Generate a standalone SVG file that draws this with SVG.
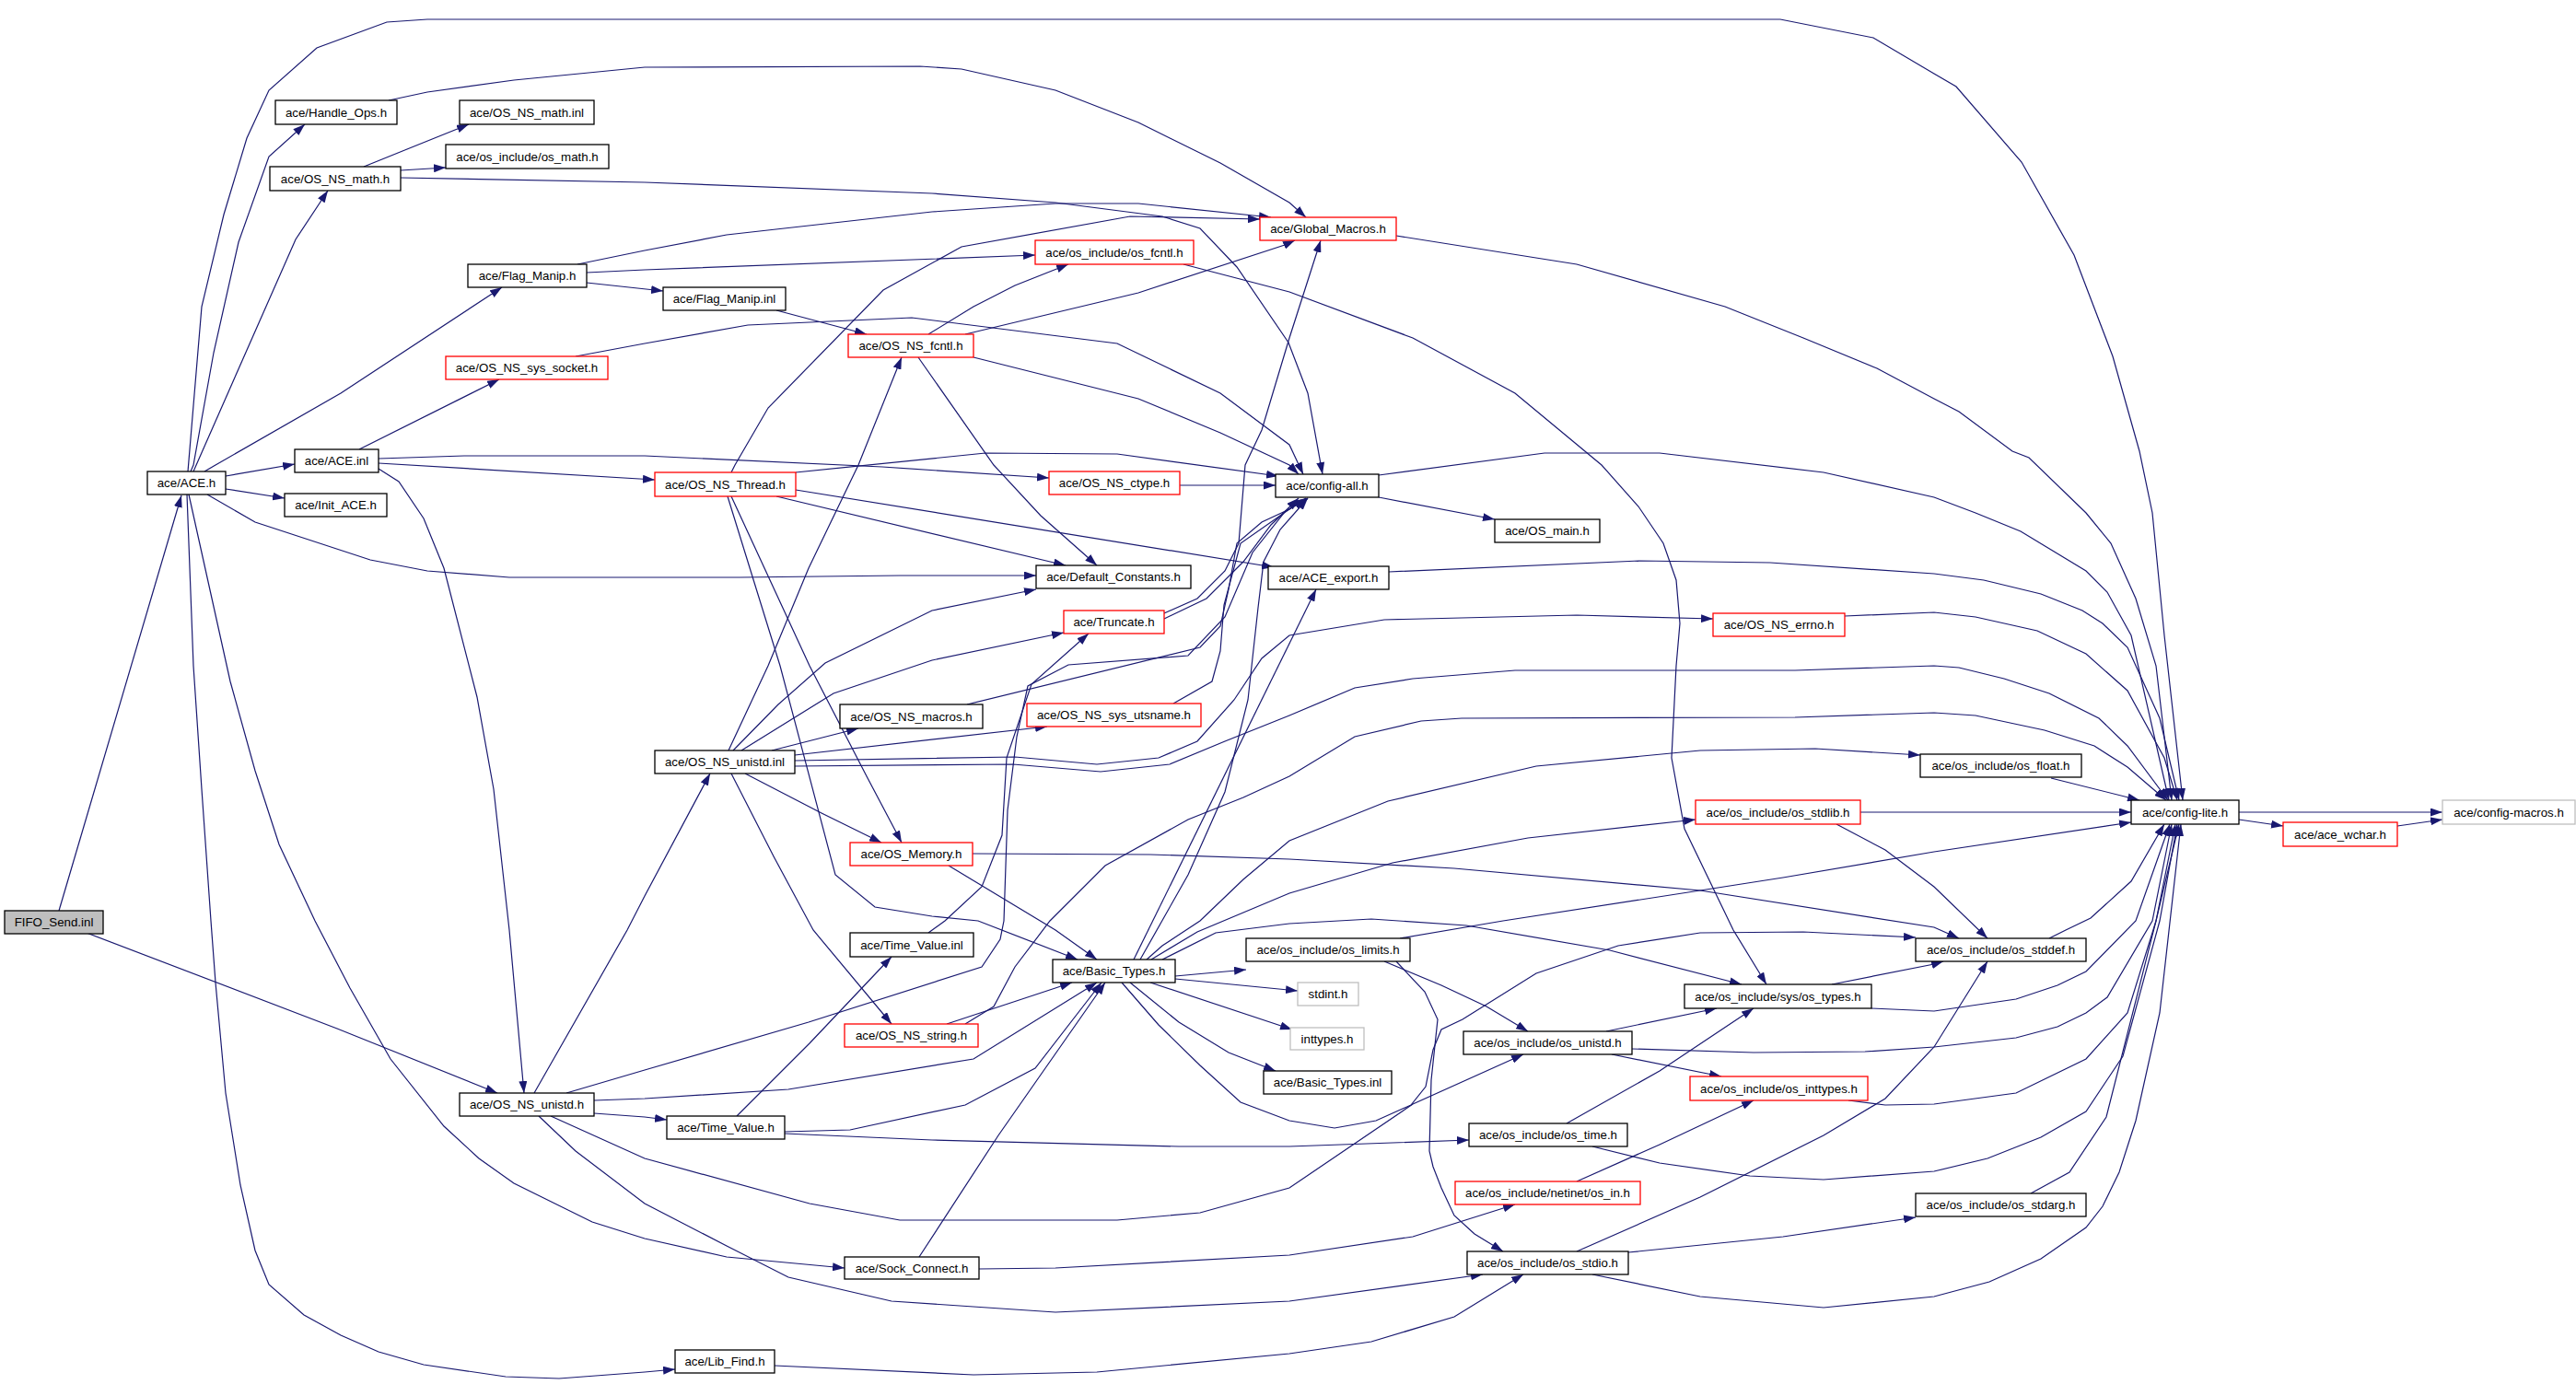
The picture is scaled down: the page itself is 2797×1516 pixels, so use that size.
<svg xmlns="http://www.w3.org/2000/svg" width="2797" height="1516" viewBox="0 0 2797 1516">
<style>
.node rect{fill:#ffffff;stroke:#000000;stroke-width:1.3}
.node.red rect{stroke:#ff0000}
.node.gray rect{stroke:#bfbfbf}
.node.root rect{fill:#bfbfbf;stroke:#000000}
.node text{font-family:"Liberation Sans",Arial,Helvetica,sans-serif;font-size:13.3px;fill:#000000;text-anchor:middle}
#edges path{fill:none;stroke:#191970;stroke-width:1.2;marker-end:url(#ah)}
</style>
<defs>
<marker id="ah" viewBox="0 0 13 9" refX="13" refY="4.5" markerWidth="13" markerHeight="9" markerUnits="userSpaceOnUse" orient="auto">
<path d="M0,0 L13,4.5 L0,9 z" fill="#191970"/>
</marker>
</defs>
<rect x="0" y="0" width="2797" height="1516" fill="#ffffff"/>
<g id="edges">
<path d="M64,989 L197,538"/>
<path d="M94,1013 L366,1117 L540,1187"/>
<path d="M207,512 L210,505 L232,383 L259,263 L292,170 L331,135"/>
<path d="M210,512 L321,260 L356,207"/>
<path d="M222,512 L234,505 L370,427 L545,312"/>
<path d="M204,512 L219,333 L243,233 L268,150 L292,98 L344,52 L420,24 L464,21 L1933,21 L2034,41 L2100,80 L2124,94 L2195,176 L2252,277 L2294,387 L2323,490 L2337,557 L2350,690 L2370,869"/>
<path d="M245,517 L320,504"/>
<path d="M245,531 L309,541"/>
<path d="M225,537 L277,567 L402,608 L464,620 L553,627 L803,627 L977,625 L1125,625"/>
<path d="M203,537 L210,723 L219,857 L229,1000 L234,1067 L245,1187 L261,1287 L277,1358 L292,1395 L330,1428 L370,1450 L411,1468 L460,1482 L549,1495 L607,1497 L700,1490 L733,1487"/>
<path d="M205,537 L250,740 L277,837 L303,917 L342,1000 L380,1073 L424,1150 L482,1223 L520,1258 L558,1285 L643,1327 L700,1345 L789,1365 L917,1377"/>
<path d="M390,488 L542,412"/>
<path d="M411,503 L711,521"/>
<path d="M411,498 L504,495 L700,495 L958,507 L1139,519"/>
<path d="M411,509 L433,523 L460,563 L482,617 L518,757 L536,857 L553,1010 L569,1187"/>
<path d="M422,109 L464,100 L558,87 L700,73 L999,72 L1044,75 L1146,98 L1236,133 L1325,177 L1400,220 L1418,236"/>
<path d="M395,181 L442,162 L509,135"/>
<path d="M435,185 L484,182"/>
<path d="M435,193 L700,198 L1012,210 L1146,220 L1262,235 L1303,248 L1343,290 L1399,372 L1420,427 L1436,515"/>
<path d="M627,287 L700,272 L789,255 L1012,230 L1146,221 L1236,221 L1380,236"/>
<path d="M637,296 L700,293 L1124,277"/>
<path d="M637,307 L720,316"/>
<path d="M843,337 L941,363"/>
<path d="M1008,363 L1057,333 L1102,310 L1160,287"/>
<path d="M1048,363 L1236,318 L1395,266 L1406,261"/>
<path d="M1057,388 L1236,433 L1325,470 L1400,505 L1410,515"/>
<path d="M997,388 L1079,505 L1130,560 L1191,614"/>
<path d="M1285,287 L1400,317 L1534,367 L1645,427 L1739,505 L1779,550 L1806,590 L1820,630 L1824,677 L1820,723 L1815,823 L1829,900 L1882,1010 L1918,1069"/>
<path d="M1516,256 L1712,287 L1873,333 L1958,367 L2038,400 L2100,433 L2127,447 L2185,490 L2203,497 L2265,557 L2292,590 L2319,650 L2341,723 L2358,869"/>
<path d="M625,387 L700,373 L812,353 L990,345 L1213,373 L1325,427 L1400,483 L1415,515"/>
<path d="M794,513 L798,505 L834,443 L959,315 L1044,268 L1227,235 L1368,238"/>
<path d="M864,513 L1070,492 L1213,493 L1388,517"/>
<path d="M843,539 L1157,614"/>
<path d="M864,532 L1383,616"/>
<path d="M794,539 L879,723 L941,843 L979,915"/>
<path d="M790,539 L847,723 L907,950 L950,985 L1012,995 L1062,1000 L1170,1042"/>
<path d="M1281,527 L1385,527"/>
<path d="M1264,666 L1300,650 L1330,620 L1345,590 L1352,505 L1370,467 L1400,367 L1434,261"/>
<path d="M1264,672 L1310,650 L1350,610 L1380,570 L1410,541"/>
<path d="M791,815 L834,723 L878,617 L932,505 L979,388"/>
<path d="M796,815 L845,765 L896,720 L1012,663 L1125,640"/>
<path d="M805,815 L905,753 L1012,717 L1155,687"/>
<path d="M838,815 L932,791"/>
<path d="M863,820 L1137,789"/>
<path d="M863,826 L1102,822 L1191,830 L1258,823 L1300,805 L1340,760 L1370,715 L1400,690 L1503,673 L1712,668 L1860,672"/>
<path d="M794,840 L840,930 L883,1010 L968,1112"/>
<path d="M809,840 L892,883 L957,915"/>
<path d="M863,832 L1100,830 L1195,838 L1270,830 L1330,805 L1400,777 L1471,747 L1534,737 L1645,728 L1949,728 L2100,723 L2127,725 L2176,737 L2225,753 L2279,780 L2310,810 L2354,869"/>
<path d="M580,1187 L681,1010 L700,973 L771,840"/>
<path d="M615,1187 L700,1162 L878,1110 L1066,1050 L1086,1020 L1090,1000 L1094,880 L1104,800 L1116,745 L1160,722 L1290,712 L1330,670 L1360,600 L1395,556 L1418,541"/>
<path d="M645,1195 L700,1193 L856,1183 L1057,1150 L1191,1067"/>
<path d="M645,1209 L700,1213 L724,1216"/>
<path d="M598,1212 L700,1258 L879,1307 L977,1325 L1213,1325 L1303,1317 L1400,1290 L1534,1199 L1654,1145"/>
<path d="M585,1212 L625,1250 L700,1307 L789,1353 L856,1387 L968,1413 L1146,1425 L1400,1413 L1610,1384"/>
<path d="M800,1212 L879,1133 L968,1039"/>
<path d="M852,1229 L923,1227 L1048,1200 L1124,1160 L1196,1067"/>
<path d="M852,1231 L1012,1238 L1280,1245 L1400,1245 L1595,1238"/>
<path d="M998,1365 L1084,1233 L1200,1067"/>
<path d="M1063,1378 L1146,1377 L1400,1363 L1534,1343 L1645,1308"/>
<path d="M841,1483 L1057,1493 L1191,1490 L1400,1470 L1489,1457 L1579,1430 L1654,1384"/>
<path d="M1028,1112 L1164,1067"/>
<path d="M1048,1112 L1079,1093 L1102,1050 L1140,1000 L1200,940 L1290,890 L1350,866 L1400,843 L1471,800 L1543,783 L1587,780 L1949,779 L2100,774 L2145,777 L2220,793 L2274,810 L2310,833 L2352,869"/>
<path d="M1030,940 L1146,1010 L1191,1042"/>
<path d="M1056,927 L1249,928 L1400,933 L1579,943 L1846,967 L2100,1007 L2127,1019"/>
<path d="M1008,1013 L1026,1000 L1066,963 L1088,907 L1093,823 L1120,743 L1182,688"/>
<path d="M1231,1042 L1429,640"/>
<path d="M1238,1042 L1290,950 L1330,860 L1355,760 L1366,660 L1372,610 L1390,575 L1420,541"/>
<path d="M1245,1042 L1262,1027 L1303,1000 L1350,955 L1400,913 L1507,870 L1668,832 L1846,815 L1971,813 L2085,820"/>
<path d="M1250,1042 L1300,1012 L1400,970 L1512,937 L1659,910 L1841,890"/>
<path d="M1262,1042 L1320,1013 L1400,1003 L1489,998 L1592,1005 L1748,1032 L1891,1069"/>
<path d="M1276,1060 L1353,1053"/>
<path d="M1276,1063 L1409,1076"/>
<path d="M1249,1067 L1403,1118"/>
<path d="M1227,1067 L1280,1110 L1334,1143 L1385,1163"/>
<path d="M1218,1067 L1258,1113 L1303,1157 L1347,1197 L1400,1217 L1449,1225 L1494,1217 L1532,1200 L1548,1180 L1556,1140 L1565,1118 L1588,1107 L1668,1057 L1757,1027 L1846,1013 L1958,1012 L2080,1018"/>
<path d="M1503,1044 L1565,1070 L1614,1093 L1659,1120"/>
<path d="M1516,1044 L1547,1077 L1561,1107 L1554,1173 L1552,1250 L1556,1267 L1565,1290 L1579,1320 L1601,1340 L1632,1359"/>
<path d="M1520,1019 L1632,1000 L1846,967 L1936,953 L2100,925 L2314,893"/>
<path d="M1744,1120 L1864,1095"/>
<path d="M1750,1145 L1869,1169"/>
<path d="M1772,1139 L1904,1143 L2025,1142 L2100,1137 L2189,1127 L2234,1115 L2265,1100 L2288,1083 L2337,1000 L2358,895"/>
<path d="M1701,1220 L1802,1163 L1904,1095"/>
<path d="M1729,1245 L1802,1263 L1900,1277 L1980,1281 L2100,1272 L2158,1258 L2216,1235 L2265,1207 L2305,1147 L2345,1000 L2364,895"/>
<path d="M1712,1283 L1802,1243 L1904,1195"/>
<path d="M1712,1359 L1846,1300 L1980,1233 L2047,1193 L2100,1137 L2158,1044"/>
<path d="M1768,1360 L1936,1343 L2080,1322"/>
<path d="M1729,1384 L1846,1408 L1980,1420 L2100,1408 L2160,1392 L2216,1367 L2265,1333 L2283,1310 L2301,1273 L2319,1217 L2345,1100 L2368,895"/>
<path d="M1989,1069 L2100,1047 L2110,1044"/>
<path d="M2032,1095 L2100,1098 L2189,1085 L2234,1070 L2265,1055 L2319,1000 L2356,895"/>
<path d="M2007,1195 L2047,1200 L2100,1199 L2189,1187 L2265,1150 L2310,1100 L2341,1000 L2362,895"/>
<path d="M2205,1296 L2247,1273 L2287,1213 L2341,1000 L2366,895"/>
<path d="M2225,1019 L2243,1010 L2270,997 L2314,957 L2350,895"/>
<path d="M1994,895 L2047,923 L2100,963 L2158,1019"/>
<path d="M2020,882 L2314,882"/>
<path d="M2227,845 L2323,869"/>
<path d="M2003,669 L2100,665 L2145,670 L2212,685 L2265,710 L2310,750 L2350,823 L2364,869"/>
<path d="M1508,621 L1780,609 L1922,611 L2100,623 L2154,630 L2216,645 L2261,663 L2283,677 L2310,703 L2345,780 L2366,869"/>
<path d="M1497,516 L1677,492 L1802,492 L1980,513 L2100,540 L2145,557 L2194,577 L2265,620 L2288,643 L2314,690 L2355,869"/>
<path d="M1497,540 L1623,564"/>
<path d="M2431,882 L2652,882"/>
<path d="M2431,890 L2479,897"/>
<path d="M2603,897 L2652,890"/>
<path d="M1050,765 L1303,703 L1325,680 L1334,640 L1343,590 L1370,567 L1400,553 L1420,541"/>
<path d="M1274,764 L1316,740 L1325,707 L1329,657 L1347,590 L1400,553 L1418,542"/>
</g>
<g id="n_fifo" class="node root"><rect x="5" y="989" width="107" height="25"/><text x="58.5" y="1006">FIFO_Send.inl</text></g>
<g id="n_ace_h" class="node"><rect x="160" y="512" width="85" height="25"/><text x="202.5" y="529">ace/ACE.h</text></g>
<g id="n_handle_ops" class="node"><rect x="299" y="109" width="132" height="26"/><text x="365" y="127">ace/Handle_Ops.h</text></g>
<g id="n_os_ns_math_inl" class="node"><rect x="499" y="109" width="146" height="26"/><text x="572" y="127">ace/OS_NS_math.inl</text></g>
<g id="n_os_math" class="node"><rect x="484" y="157" width="177" height="26"/><text x="572.5" y="175">ace/os_include/os_math.h</text></g>
<g id="n_os_ns_math_h" class="node"><rect x="293" y="181" width="142" height="26"/><text x="364" y="199">ace/OS_NS_math.h</text></g>
<g id="n_flag_manip_h" class="node"><rect x="508" y="287" width="129" height="25"/><text x="572.5" y="304">ace/Flag_Manip.h</text></g>
<g id="n_os_ns_sys_socket" class="node red"><rect x="484" y="387" width="176" height="25"/><text x="572" y="404">ace/OS_NS_sys_socket.h</text></g>
<g id="n_ace_inl" class="node"><rect x="320" y="488" width="91" height="25"/><text x="365.5" y="505">ace/ACE.inl</text></g>
<g id="n_init_ace" class="node"><rect x="309" y="536" width="111" height="25"/><text x="364.5" y="553">ace/Init_ACE.h</text></g>
<g id="n_flag_manip_inl" class="node"><rect x="720" y="312" width="133" height="25"/><text x="786.5" y="329">ace/Flag_Manip.inl</text></g>
<g id="n_os_fcntl" class="node red"><rect x="1124" y="261" width="172" height="26"/><text x="1210" y="279">ace/os_include/os_fcntl.h</text></g>
<g id="n_os_ns_fcntl" class="node red"><rect x="921" y="363" width="136" height="25"/><text x="989" y="380">ace/OS_NS_fcntl.h</text></g>
<g id="n_global_macros" class="node red"><rect x="1368" y="236" width="148" height="25"/><text x="1442" y="253">ace/Global_Macros.h</text></g>
<g id="n_os_ns_thread" class="node red"><rect x="711" y="513" width="153" height="26"/><text x="787.5" y="531">ace/OS_NS_Thread.h</text></g>
<g id="n_os_ns_ctype" class="node red"><rect x="1139" y="512" width="142" height="25"/><text x="1210" y="529">ace/OS_NS_ctype.h</text></g>
<g id="n_default_constants" class="node"><rect x="1125" y="614" width="168" height="25"/><text x="1209" y="631">ace/Default_Constants.h</text></g>
<g id="n_truncate" class="node red"><rect x="1155" y="663" width="109" height="25"/><text x="1209.5" y="680">ace/Truncate.h</text></g>
<g id="n_os_ns_macros" class="node"><rect x="912" y="765" width="155" height="26"/><text x="989.5" y="783">ace/OS_NS_macros.h</text></g>
<g id="n_os_ns_sys_utsname" class="node red"><rect x="1115" y="764" width="189" height="25"/><text x="1209.5" y="781">ace/OS_NS_sys_utsname.h</text></g>
<g id="n_os_ns_unistd_inl" class="node"><rect x="711" y="815" width="152" height="25"/><text x="787" y="832">ace/OS_NS_unistd.inl</text></g>
<g id="n_os_memory" class="node red"><rect x="923" y="915" width="133" height="25"/><text x="989.5" y="932">ace/OS_Memory.h</text></g>
<g id="n_config_all" class="node"><rect x="1385" y="515" width="112" height="25"/><text x="1441" y="532">ace/config-all.h</text></g>
<g id="n_os_main" class="node"><rect x="1623" y="564" width="114" height="25"/><text x="1680" y="581">ace/OS_main.h</text></g>
<g id="n_ace_export" class="node"><rect x="1377" y="615" width="131" height="25"/><text x="1442.5" y="632">ace/ACE_export.h</text></g>
<g id="n_os_ns_errno" class="node red"><rect x="1860" y="666" width="143" height="25"/><text x="1931.5" y="683">ace/OS_NS_errno.h</text></g>
<g id="n_os_stdlib" class="node red"><rect x="1841" y="869" width="179" height="26"/><text x="1930.5" y="887">ace/os_include/os_stdlib.h</text></g>
<g id="n_os_float" class="node"><rect x="2085" y="819" width="175" height="25"/><text x="2172.5" y="836">ace/os_include/os_float.h</text></g>
<g id="n_config_lite" class="node"><rect x="2314" y="869" width="117" height="26"/><text x="2372.5" y="887">ace/config-lite.h</text></g>
<g id="n_config_macros" class="node gray"><rect x="2652" y="869" width="144" height="26"/><text x="2724" y="887">ace/config-macros.h</text></g>
<g id="n_ace_wchar" class="node red"><rect x="2479" y="893" width="124" height="26"/><text x="2541" y="911">ace/ace_wchar.h</text></g>
<g id="n_time_value_inl" class="node"><rect x="923" y="1013" width="134" height="26"/><text x="990" y="1031">ace/Time_Value.inl</text></g>
<g id="n_basic_types_h" class="node"><rect x="1143" y="1042" width="133" height="25"/><text x="1209.5" y="1059">ace/Basic_Types.h</text></g>
<g id="n_os_ns_string" class="node red"><rect x="917" y="1112" width="145" height="25"/><text x="989.5" y="1129">ace/OS_NS_string.h</text></g>
<g id="n_time_value_h" class="node"><rect x="724" y="1212" width="128" height="25"/><text x="788" y="1229">ace/Time_Value.h</text></g>
<g id="n_sock_connect" class="node"><rect x="917" y="1365" width="146" height="24"/><text x="990" y="1382">ace/Sock_Connect.h</text></g>
<g id="n_lib_find" class="node"><rect x="733" y="1466" width="108" height="25"/><text x="787" y="1483">ace/Lib_Find.h</text></g>
<g id="n_os_limits" class="node"><rect x="1353" y="1019" width="178" height="25"/><text x="1442" y="1036">ace/os_include/os_limits.h</text></g>
<g id="n_stdint" class="node gray"><rect x="1409" y="1067" width="66" height="25"/><text x="1442" y="1084">stdint.h</text></g>
<g id="n_inttypes" class="node gray"><rect x="1401" y="1116" width="80" height="24"/><text x="1441" y="1133">inttypes.h</text></g>
<g id="n_basic_types_inl" class="node"><rect x="1372" y="1163" width="139" height="25"/><text x="1441.5" y="1180">ace/Basic_Types.inl</text></g>
<g id="n_os_types" class="node"><rect x="1829" y="1069" width="203" height="26"/><text x="1930.5" y="1087">ace/os_include/sys/os_types.h</text></g>
<g id="n_os_unistd" class="node"><rect x="1589" y="1120" width="183" height="25"/><text x="1680.5" y="1137">ace/os_include/os_unistd.h</text></g>
<g id="n_os_inttypes" class="node red"><rect x="1835" y="1169" width="193" height="26"/><text x="1931.5" y="1187">ace/os_include/os_inttypes.h</text></g>
<g id="n_os_time" class="node"><rect x="1595" y="1220" width="172" height="25"/><text x="1681" y="1237">ace/os_include/os_time.h</text></g>
<g id="n_os_in" class="node red"><rect x="1580" y="1283" width="201" height="25"/><text x="1680.5" y="1300">ace/os_include/netinet/os_in.h</text></g>
<g id="n_os_stdio" class="node"><rect x="1593" y="1359" width="175" height="25"/><text x="1680.5" y="1376">ace/os_include/os_stdio.h</text></g>
<g id="n_os_stddef" class="node"><rect x="2080" y="1019" width="185" height="25"/><text x="2172.5" y="1036">ace/os_include/os_stddef.h</text></g>
<g id="n_os_stdarg" class="node"><rect x="2080" y="1296" width="185" height="25"/><text x="2172.5" y="1313">ace/os_include/os_stdarg.h</text></g>
<g id="n_os_ns_unistd_h" class="node"><rect x="499" y="1187" width="146" height="25"/><text x="572" y="1204">ace/OS_NS_unistd.h</text></g>
</svg>
